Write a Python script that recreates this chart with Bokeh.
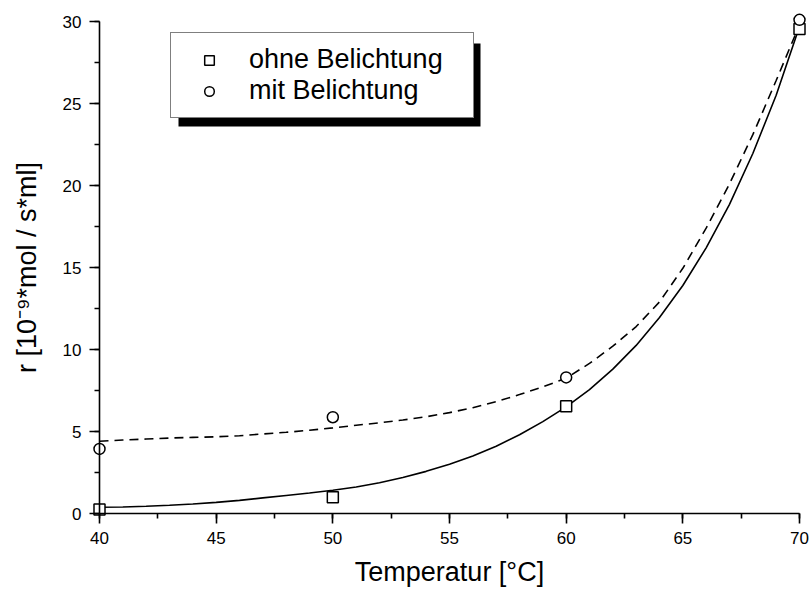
from bokeh.plotting import figure
from bokeh.models import Range1d, Legend, LegendItem, BoxAnnotation, SingleIntervalTicker
from bokeh.embed import file_html
from bokeh.resources import INLINE

# ---- data ----
temps_meas = [40, 50, 60, 70]
r_ohne = [0.24, 0.99, 6.54, 29.55]
r_mit = [3.94, 5.87, 8.3, 30.1]

fit_temps = [40, 41, 42, 43, 44, 45, 46, 47, 48, 49, 50, 51, 52, 53, 54, 55,
             56, 57, 58, 59, 60, 61, 62, 63, 64, 65, 66, 67, 68, 69, 70]
fit_ohne = [0.38, 0.40, 0.44, 0.50, 0.58, 0.68, 0.80, 0.95, 1.10, 1.25, 1.42,
            1.62, 1.88, 2.20, 2.57, 3.00, 3.50, 4.10, 4.80, 5.60, 6.50, 7.55,
            8.80, 10.25, 11.95, 13.9, 16.2, 18.85, 21.95, 25.5, 29.7]
fit_mit = [4.41, 4.48, 4.54, 4.60, 4.64, 4.68, 4.74, 4.85, 4.95, 5.08, 5.22,
           5.38, 5.53, 5.70, 5.90, 6.15, 6.45, 6.82, 7.25, 7.72, 8.25, 9.15,
           10.2, 11.4, 12.9, 14.95, 17.4, 20.1, 23.1, 26.4, 29.8]

series_labels = ["ohne Belichtung", "mit Belichtung"]
x_title = "Temperatur [°C]"
y_title = "r [10⁻⁹*mol / s*ml]"

FONT = "Liberation Sans"

# ---- layout: frame covers the whole figure, axes sit at x=40 / y=0 ----
W, H = 812, 597
X0_PX, X1_PX = 99, 799     # pixel columns of 40 and 70
Y0_PX, Y1_PX = 513, 21     # pixel rows of 0 and 30
sx = (X1_PX - X0_PX) / 30.0
sy = (Y0_PX - Y1_PX) / 30.0


def px_to_x(px):
    return 40 + (px - X0_PX) / sx


def py_to_y(py):
    return (Y0_PX - py) / sy


p = figure(width=W, height=H, output_backend="svg", toolbar_location=None,
           x_range=Range1d(px_to_x(0), px_to_x(W)),
           y_range=Range1d(py_to_y(H), py_to_y(0)),
           min_border_left=0, min_border_right=0, min_border_top=0,
           min_border_bottom=0, title=None)
p.outline_line_color = None
p.grid.visible = False
p.background_fill_color = "white"
p.border_fill_color = "white"

# curves
p.line(fit_temps, fit_ohne, line_color="black", line_width=1.6)
p.line(fit_temps, fit_mit, line_color="black", line_width=1.6, line_dash="9 6")

sq = p.scatter(temps_meas, r_ohne, marker="square", size=11, fill_color="white",
               line_color="black", line_width=1.5)
ci = p.scatter(temps_meas, r_mit, marker="circle", size=11, fill_color="white",
               line_color="black", line_width=1.5)

# axes
for ax in (p.xaxis[0], p.yaxis[0]):
    ax.axis_line_width = 1.6
    ax.major_tick_line_width = 1.6
    ax.minor_tick_line_width = 1.6
    ax.major_tick_out = 10
    ax.major_tick_in = 0
    ax.minor_tick_out = 5
    ax.minor_tick_in = 0
    ax.major_label_standoff = 8
    ax.major_label_text_font = FONT
    ax.major_label_text_font_size = "17px"
    ax.major_label_text_color = "black"
    ax.axis_label_text_font = FONT
    ax.axis_label_text_font_style = "normal"
    ax.axis_label_text_color = "black"
    ax.axis_label_text_font_size = "27px"

p.xaxis[0].ticker = SingleIntervalTicker(interval=5, num_minor_ticks=2)
p.yaxis[0].ticker = SingleIntervalTicker(interval=5, num_minor_ticks=2)
p.xaxis[0].bounds = (40, 70)
p.yaxis[0].bounds = (0, 30)
p.xaxis[0].fixed_location = 0
p.yaxis[0].fixed_location = 40
p.xaxis[0].axis_label = x_title
p.yaxis[0].axis_label = y_title
p.xaxis[0].axis_label_standoff = 10
p.yaxis[0].axis_label_standoff = 18

# legend box (page pixels) and its shadow
LEG_LEFT, LEG_TOP, LEG_RIGHT, LEG_BOTTOM = 170, 35, 472, 118
SHADOW = 8
shadow = BoxAnnotation(left=px_to_x(LEG_LEFT + SHADOW), right=px_to_x(LEG_RIGHT + SHADOW),
                       top=py_to_y(LEG_TOP + SHADOW), bottom=py_to_y(LEG_BOTTOM + SHADOW),
                       fill_color="black", fill_alpha=1.0, line_color=None)
p.add_layout(shadow)

legend = Legend(items=[LegendItem(label=series_labels[0], renderers=[sq]),
                       LegendItem(label=series_labels[1], renderers=[ci])],
                location=(LEG_LEFT, H - LEG_BOTTOM), padding=11, spacing=0, margin=0,
                glyph_width=54, glyph_height=24, label_standoff=13,
                label_width=213, label_height=20,
                label_text_font=FONT, label_text_font_size="27px",
                label_text_color="black",
                border_line_color="black", border_line_width=1.5,
                background_fill_color="white", background_fill_alpha=1.0)
p.add_layout(legend)

open("out.html", "w").write(file_html(p, INLINE))
